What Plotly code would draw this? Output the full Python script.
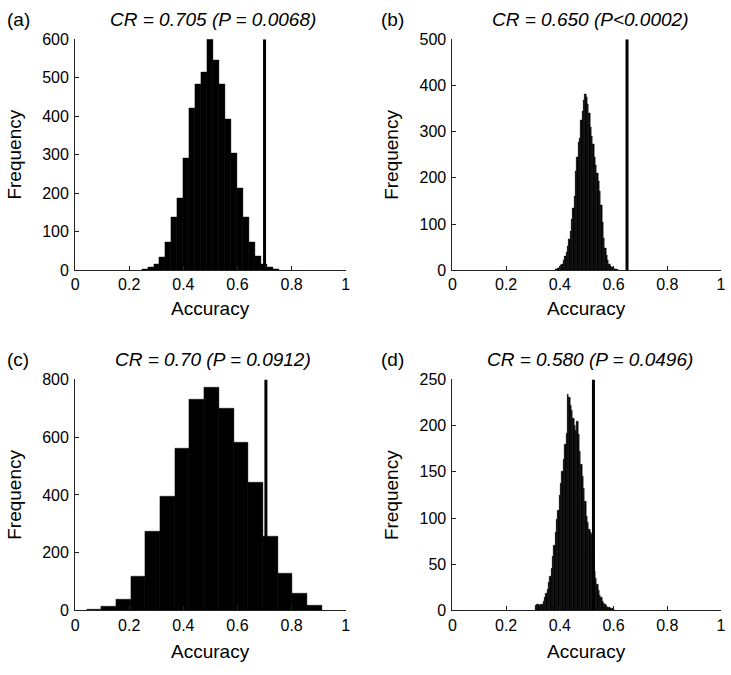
import plotly.graph_objects as go

W, H = 731, 675

# ---------------- data ----------------
# (a) bin centers / counts
a_width = 0.0221
a_centers = [0.5 + k * a_width for k in range(-11, 12)]
a_counts = [2, 7, 15, 35, 74, 139, 188, 292, 422, 482, 515, 600, 545, 482, 391, 304, 213, 138, 74, 36, 15, 9, 3]

# (b)
b_width = 0.005
b_centers = [round(0.385 + 0.005 * i, 3) for i in range(48)]
b_counts = [2, 3, 4, 7, 10, 14, 22, 30, 40, 52, 68, 85, 110, 135, 160, 215, 245, 278, 285, 325,
            345, 368, 382, 375, 360, 340, 310, 290, 272, 245, 228, 210, 192, 172, 140, 105, 70, 48,
            32, 22, 14, 9, 6, 4, 3, 2, 1, 1]

# (c)
c_width = 0.0543
c_centers = [0.070 + c_width * k for k in range(16)]
c_counts = [4, 13, 39, 118, 273, 395, 561, 730, 771, 699, 582, 444, 258, 129, 58, 17]

# (d)
d_width = 0.005
d_centers = [round(0.310 + 0.005 * i, 3) for i in range(59)]
d_counts = [5, 6, 6, 5, 7, 6, 10, 14, 18, 23, 30, 37, 45, 58, 70, 84, 98, 108, 125, 138,
            150, 163, 180, 192, 234, 230, 222, 216, 208, 200, 195, 205, 190, 172, 158, 145, 132, 118,
            102, 95, 88, 84, 82, 60, 42, 35, 28, 22, 16, 14, 10, 8, 6, 4, 3, 3, 2, 2, 1]

cr_lines = [0.70, 0.65, 0.705, 0.525]
y_max = [600, 500, 800, 250]
y_dtick = [100, 100, 200, 50]
titles = ["CR = 0.705 (P = 0.0068)", "CR = 0.650 (P<0.0002)",
          "CR = 0.70 (P = 0.0912)", "CR = 0.580 (P = 0.0496)"]
labels = ["(a)", "(b)", "(c)", "(d)"]
x_ticks = [0, 0.2, 0.4, 0.6, 0.8, 1]
x_ticktext = ["0", "0.2", "0.4", "0.6", "0.8", "1"]

# ---------------- layout geometry (pixels) ----------------
cols = [(72, 346), (454, 726)]
rows = [(32, 269), (381, 618)]
xtitle_gap = [39, 42]
panels = [(0, 0), (0, 1), (1, 0), (1, 1)]

def px(x):
    return x / W

def py(y):
    return 1 - y / H

FONT = "Liberation Sans, Arial, sans-serif"

fig = go.Figure()
data = [(a_centers, a_counts, a_width), (b_centers, b_counts, b_width),
        (c_centers, c_counts, c_width), (d_centers, d_counts, d_width)]

annotations = []
shapes = []
for i, ((r, c), (xs, ys, wd)) in enumerate(zip(panels, data)):
    n = i + 1
    xa = "x" if n == 1 else f"x{n}"
    ya = "y" if n == 1 else f"y{n}"
    fig.add_trace(go.Bar(x=xs, y=ys, width=[wd] * len(xs), xaxis=xa, yaxis=ya,
                         marker=dict(color="black", line=dict(color="black", width=0.4)),
                         showlegend=False, hoverinfo="skip"))
    x0, x1 = cols[c]
    y0, y1 = rows[r]
    axis_common = dict(showline=True, linecolor="#222", linewidth=1, ticks="inside",
                       ticklen=4, tickcolor="#222", showgrid=False, zeroline=False,
                       tickfont=dict(family=FONT, size=16, color="black"), fixedrange=True)
    fig.update_layout(**{
        ("xaxis" if n == 1 else f"xaxis{n}"): dict(
            domain=[px(x0), px(x1)], anchor=ya, range=[0, 1],
            tickvals=x_ticks, ticktext=x_ticktext, **axis_common),
        ("yaxis" if n == 1 else f"yaxis{n}"): dict(
            domain=[py(y1), py(y0)], anchor=xa, range=[0, y_max[i]],
            dtick=y_dtick[i], tick0=0, ticklabelstandoff=2, **axis_common),
    })
    shapes.append(dict(type="line", xref=xa, yref=ya, x0=cr_lines[i], x1=cr_lines[i],
                       y0=0, y1=y_max[i], line=dict(color="black", width=3)))
    # title
    annotations.append(dict(text="<i>" + titles[i] + "</i>", xref="paper", yref="paper",
                            x=px((x0 + x1) / 2 + 3), y=py(y0 - 20), xanchor="center", yanchor="middle",
                            showarrow=False, font=dict(family=FONT, size=19, color="black")))
    # panel label
    annotations.append(dict(text=labels[i], xref="paper", yref="paper",
                            x=px(x0 - 72 + 1 if c == 0 else x0 - 74), y=py(y0 - 20),
                            xanchor="left", yanchor="middle", showarrow=False,
                            font=dict(family=FONT, size=19, color="black")))
    # axis titles
    annotations.append(dict(text="Accuracy", xref="paper", yref="paper",
                            x=px((x0 + x1) / 2), y=py(y1 + xtitle_gap[r]), xanchor="center",
                            yanchor="middle", showarrow=False,
                            font=dict(family=FONT, size=19, color="black")))
    annotations.append(dict(text="Frequency", xref="paper", yref="paper",
                            x=px(x0 - 61), y=py((y0 + y1) / 2), xanchor="center", yanchor="middle",
                            textangle=-90, showarrow=False,
                            font=dict(family=FONT, size=19, color="black")))

fig.update_layout(width=W, height=H, margin=dict(l=0, r=0, t=0, b=0),
                  paper_bgcolor="white", plot_bgcolor="white", bargap=0,
                  annotations=annotations, shapes=shapes)

fig.write_html("out.html", post_script="document.body.style.margin='0px';",
               config={"displayModeBar": False})
